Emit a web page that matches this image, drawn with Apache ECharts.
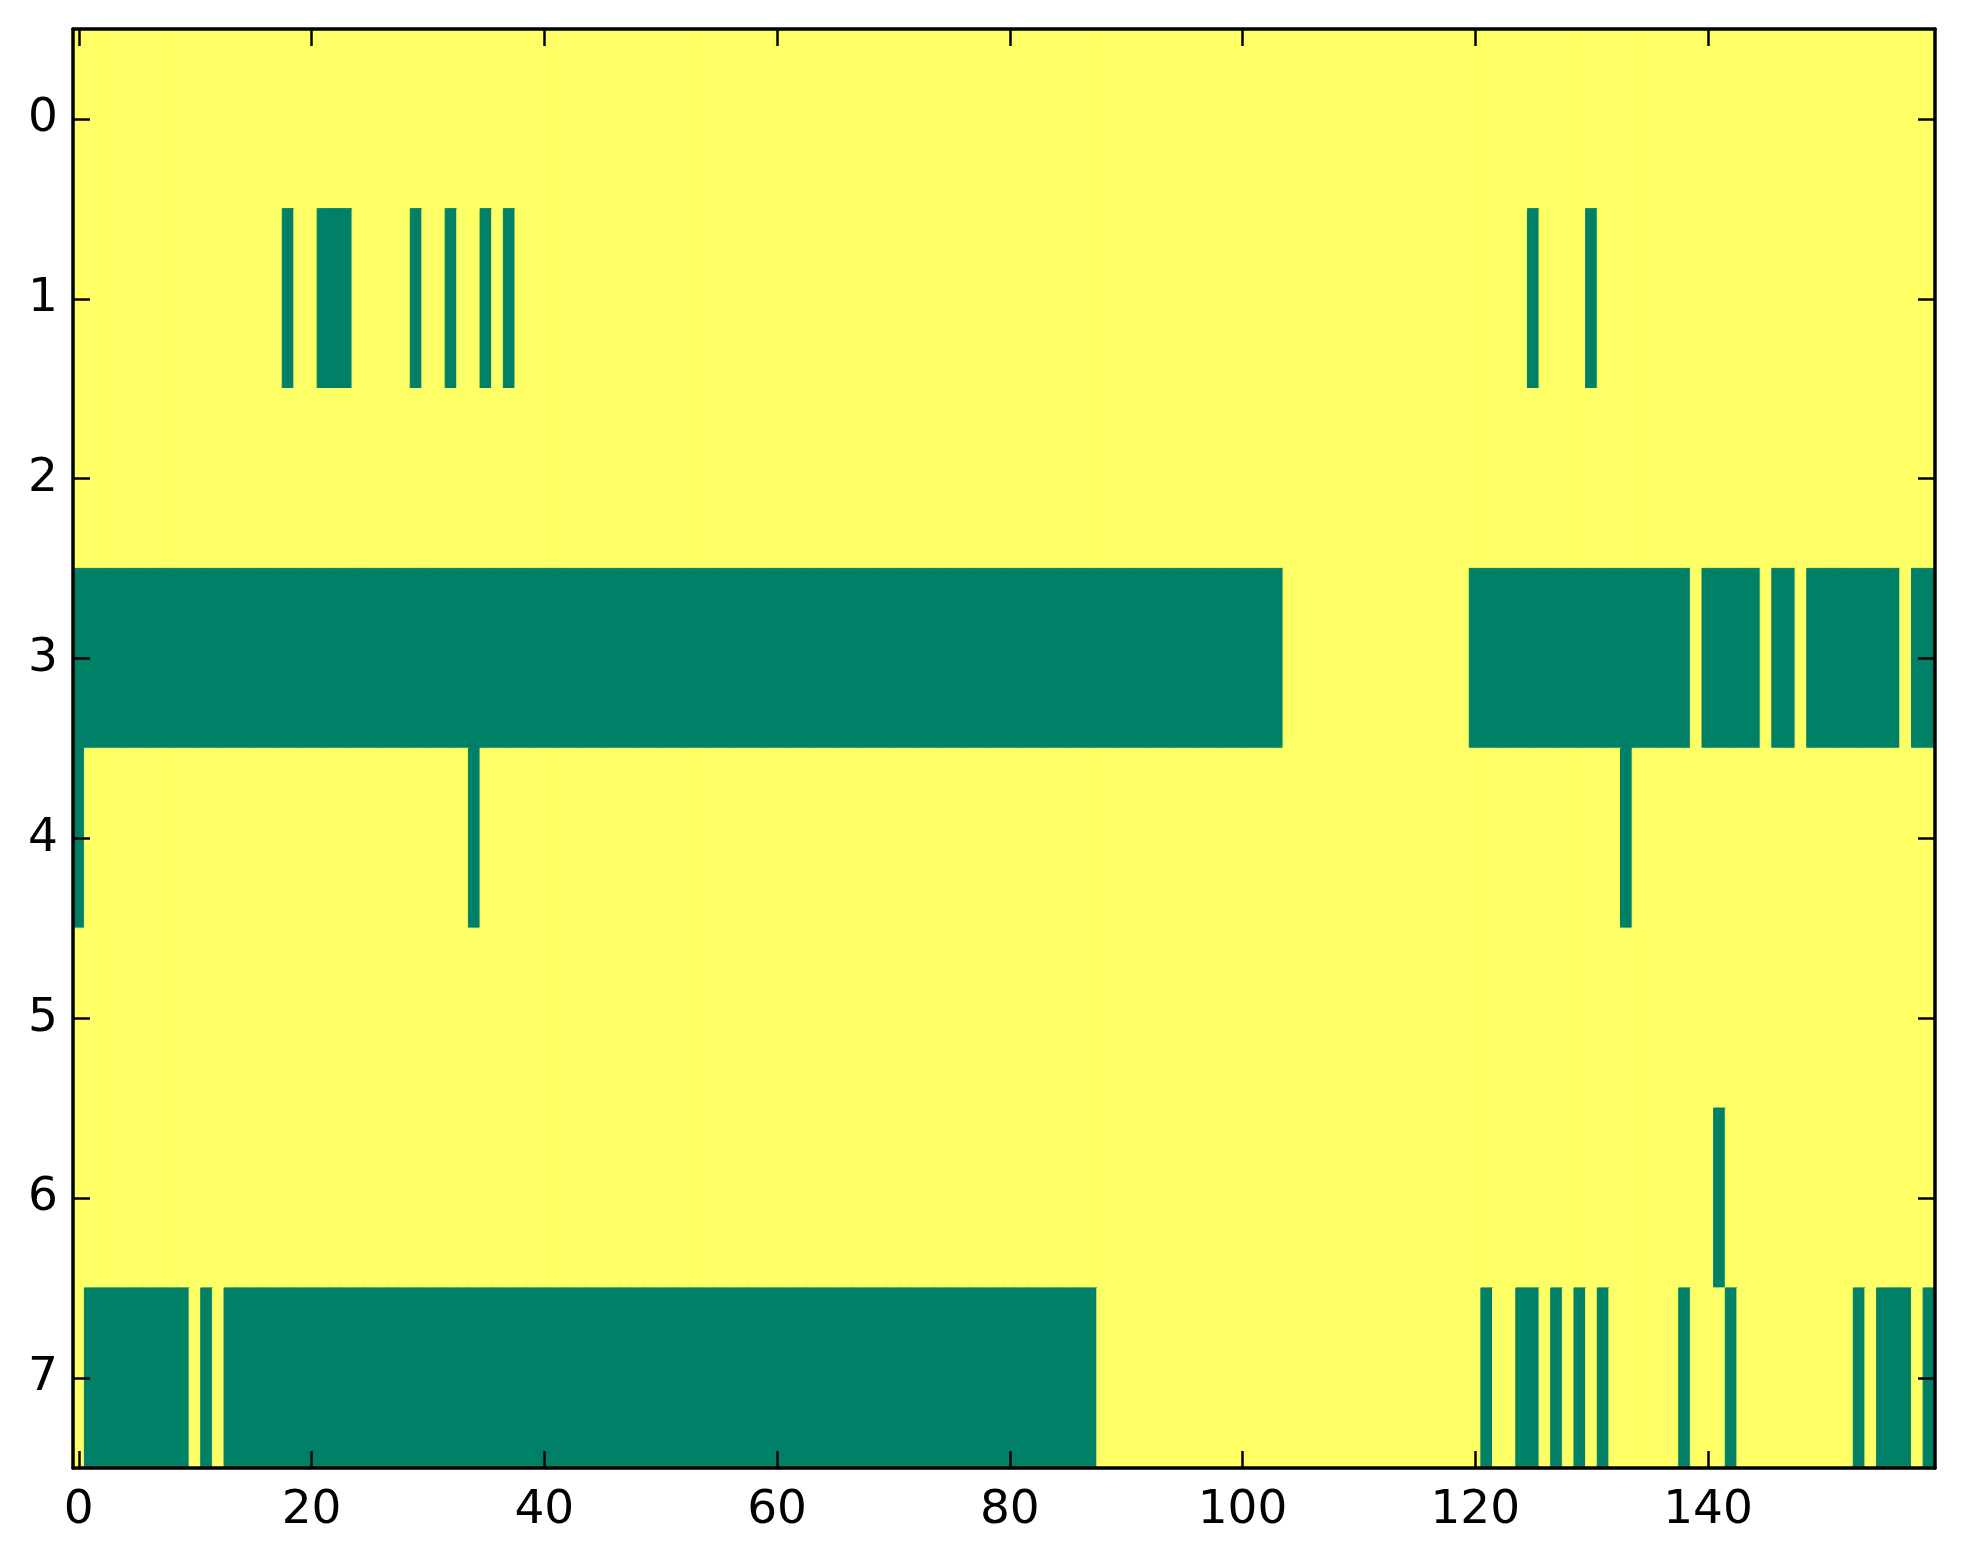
<!DOCTYPE html>
<html lang="en">
	<head>
		<meta charset="UTF-8" />
		<title>Binary matrix</title>
		<style>
			html, body { margin: 0; padding: 0; background: #ffffff; }
			#chart { width: 1963px; height: 1564px; }
		</style>
	</head>
	<body>
		<div id="chart"></div>
		<script src="https://cdn.jsdelivr.net/npm/echarts@6/dist/echarts.min.js"></script>
		<script>
			// matrix size
			const nCols = 160;
			const rowLabels = ["0", "1", "2", "3", "4", "5", "6", "7"];
			const xTickStep = 20;

			// green cells per row, as [first, last] column runs
			const row0 = [];
			const row1 = [[18, 18], [21, 23], [29, 29], [32, 32], [35, 35], [37, 37], [125, 125], [130, 130]];
			const row2 = [];
			const row3 = [[0, 103], [120, 138], [140, 144], [146, 147], [149, 156], [158, 159]];
			const row4 = [[0, 0], [34, 34], [133, 133]];
			const row5 = [];
			const row6 = [[141, 141]];
			const row7 = [[1, 9], [11, 11], [13, 87], [121, 121], [124, 125], [127, 127], [129, 129], [131, 131], [138, 138], [142, 142], [153, 153], [155, 157], [159, 159]];

			const rows = [row0, row1, row2, row3, row4, row5, row6, row7];

			const GREEN = "#008066";
			const YELLOW = "#ffff66";

			const colLabels = [];
			for (let i = 0; i < nCols; i++) colLabels.push(String(i));

			const cells = [];
			rows.forEach((runs, r) => {
				for (let c = 0; c < nCols; c++) {
					const on = runs.some((run) => c >= run[0] && c <= run[1]);
					const col = on ? GREEN : YELLOW;
					cells.push({
						value: [c, r, on ? 1 : 0],
						itemStyle: { color: col, borderColor: col, borderWidth: 1 }
					});
				}
			});

			const tickShown = (i) => i % xTickStep === 0;
			const font = { fontFamily: "DejaVu Sans", fontSize: 47, color: "#000000" };
			const line = { show: true, onZero: false, lineStyle: { color: "#000000", width: 3.5 } };
			const tick = { show: true, inside: true, length: 17, alignWithLabel: true, lineStyle: { color: "#000000", width: 2.5 } };

			const myChart = echarts.init(document.getElementById("chart"));
			myChart.setOption({
				animation: false,
				grid: { left: 73, right: 28, top: 29, bottom: 96, containLabel: false },
				xAxis: [
					{
						type: "category", position: "bottom", data: colLabels, z: 5,
						axisLine: line,
						axisTick: Object.assign({}, tick, { interval: (i) => tickShown(i) }),
						axisLabel: Object.assign({}, font, { margin: 19, interval: (i) => tickShown(i) }),
						splitLine: { show: false }
					},
					{
						type: "category", position: "top", data: colLabels, z: 5,
						axisLine: line,
						axisTick: Object.assign({}, tick, { interval: (i) => tickShown(i) }),
						axisLabel: { show: false },
						splitLine: { show: false }
					}
				],
				yAxis: [
					{
						type: "category", position: "left", inverse: true, data: rowLabels, z: 5,
						axisLine: line,
						axisTick: tick,
						axisLabel: Object.assign({}, font, { margin: 15 }),
						splitLine: { show: false }
					},
					{
						type: "category", position: "right", inverse: true, data: rowLabels, z: 5,
						axisLine: line,
						axisTick: tick,
						axisLabel: { show: false },
						splitLine: { show: false }
					}
				],
				series: [
					{
						type: "heatmap",
						xAxisIndex: 0,
						yAxisIndex: 0,
						data: cells,
						emphasis: { disabled: true },
						z: 1
					}
				]
			});
		</script>
	</body>
</html>
